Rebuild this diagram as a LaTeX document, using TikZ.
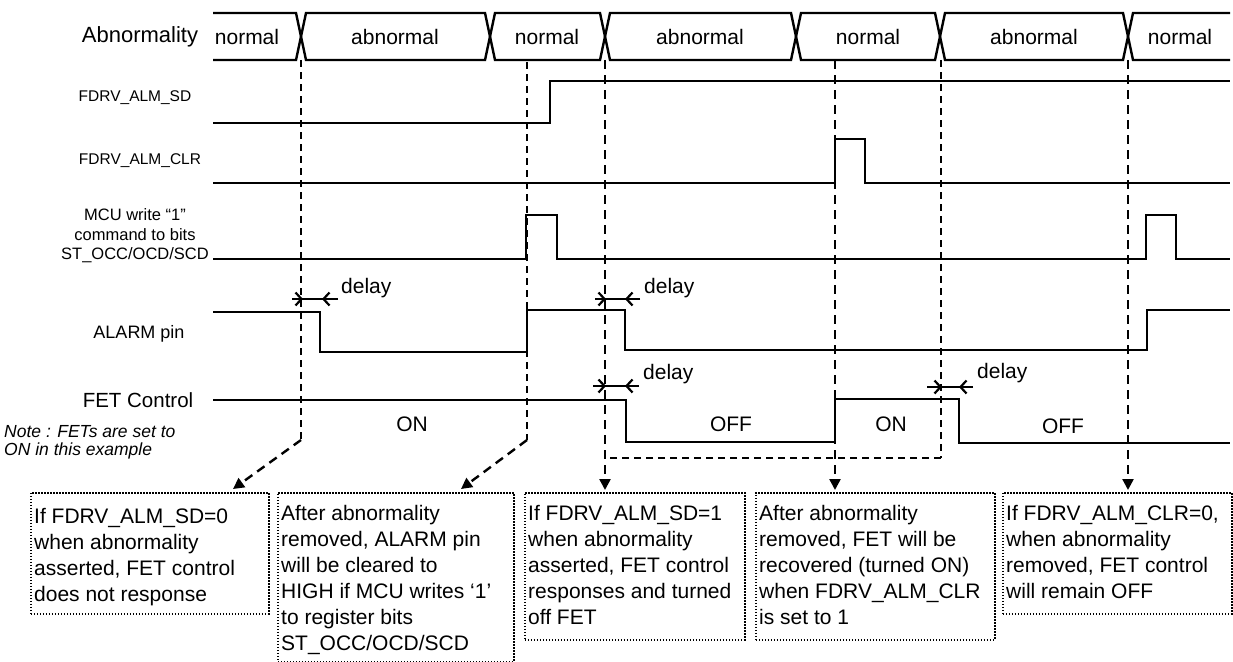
\documentclass[tikz,border=0pt]{standalone}
\usepackage{fontspec}
\setmainfont{Liberation Sans}
\usetikzlibrary{arrows.meta,calc}
\begin{document}
\begin{tikzpicture}[x=1pt,y=-1pt,
  sig/.style={line width=2.4pt, line join=miter},
  bus/.style={line width=2.4pt, line join=miter},
  thindash/.style={line width=1.5pt, dash pattern=on 7pt off 5pt},
  thickdash/.style={line width=2.4pt, dash pattern=on 9pt off 6pt},
  meddash/.style={line width=1.8pt, dash pattern=on 7pt off 5pt},
  lbl/.style={align=center, inner sep=0pt},
  bustxt/.style={font=\fontsize{21}{25}\selectfont, inner sep=0pt},
  dtxt/.style={font=\fontsize{21}{25}\selectfont, inner sep=0pt, anchor=west},
  boxtxt/.style={font=\fontsize{21}{26}\selectfont, align=left, inner sep=0pt, anchor=north west},
  notebox/.style={draw, line width=1.5pt, dash pattern=on 1.5pt off 1.5pt, inner sep=0pt, anchor=north west},
  ptr/.style={-{Triangle[length=11pt,width=11pt]}},
  barb/.style={line width=2.2pt, -{Straight Barb[length=6pt,width=13pt]}},
]
\fill[white] (0,0) rectangle (1233,661);
\useasboundingbox (0,0) rectangle (1233,661);

% ---------- left labels
\node[lbl, font=\fontsize{22}{24}\selectfont] (lAbn) at (140,37) {Abnormality};
\node[lbl, font=\fontsize{15.5}{18}\selectfont] (lSD) at (135,98) {FDRV\_ALM\_SD};
\node[lbl, font=\fontsize{15.5}{18}\selectfont] (lCLR) at (140,161) {FDRV\_ALM\_CLR};
\node[lbl, font=\fontsize{16.5}{19.5}\selectfont] (lMCU) at (135,236) {MCU write “1”\\command to bits\\ST\_OCC/OCD/SCD};
\node[lbl, font=\fontsize{18}{20}\selectfont] (lALM) at (139,334) {ALARM pin};
\node[lbl, font=\fontsize{20.5}{23}\selectfont] (lFET) at (138,400) {FET Control};
\node[font=\fontsize{17.5}{18}\selectfont\itshape, align=left, inner sep=0pt, anchor=west] (note) at (4,442) {Note : FETs are set to\\ON in this example};

% ---------- abnormality bus
\draw[bus] (213,13) -- (296,13) -- (301,36.5) -- (296,60) -- (213,60);
\foreach \a/\b in {301/490,490/605,605/796,796/940,940/1128}{
  \draw[bus] (\a,36.5) -- (\a+5,13) -- (\b-5,13) -- (\b,36.5) -- (\b-5,60) -- (\a+5,60) -- cycle;
}
\draw[bus] (1230,13) -- (1133,13) -- (1128,36.5) -- (1133,60) -- (1230,60);
\node[bustxt] (s1) at (247,37) {normal};
\node[bustxt] (s2) at (395,37) {abnormal};
\node[bustxt] (s3) at (547,37) {normal};
\node[bustxt] (s4) at (700,37) {abnormal};
\node[bustxt] (s5) at (868,37) {normal};
\node[bustxt] (s6) at (1034,37) {abnormal};
\node[bustxt] (s7) at (1180,37) {normal};

% ---------- signals
\draw[sig] (213,123) -- (550,123) -- (550,81) -- (1230,81);
\draw[sig] (213,183) -- (835,183) -- (835,139) -- (865,139) -- (865,183) -- (1230,183);
\draw[sig] (213,259) -- (526,259) -- (526,215) -- (557,215) -- (557,259) -- (1146,259) -- (1146,215) -- (1176,215) -- (1176,259) -- (1230,259);
\draw[sig] (213,312) -- (320,312) -- (320,352) -- (527,352) -- (527,310) -- (625,310) -- (625,350) -- (1147,350) -- (1147,310) -- (1230,310);
\draw[sig] (213,400) -- (626,400) -- (626,442) -- (835,442) -- (835,399) -- (959,399) -- (959,443) -- (1230,443);
\node[bustxt] (on1) at (412,424) {ON};
\node[bustxt] (off1) at (731,424) {OFF};
\node[bustxt] (on2) at (891,424) {ON};
\node[bustxt] (off2) at (1063,426) {OFF};

% ---------- delay markers
\draw[sig] (292,299) -- (338,299);
\draw[barb] (292,299) -- (303,299);
\draw[barb] (338,299) -- (322,299);
\node[dtxt] (dl1) at (341,288) {delay};
\draw[sig] (595,299) -- (640,299);
\draw[barb] (595,299) -- (606,299);
\draw[barb] (640,299) -- (625,299);
\node[dtxt] (dl2) at (644,288) {delay};
\draw[sig] (593,386) -- (639,386);
\draw[barb] (593,386) -- (606,386);
\draw[barb] (639,386) -- (625,386);
\node[dtxt] (dl3) at (643,374) {delay};
\draw[sig] (927,387) -- (973,387);
\draw[barb] (927,387) -- (942,387);
\draw[barb] (973,387) -- (959,387);
\node[dtxt] (dl4) at (977,373) {delay};

% ---------- explanation boxes
\node[notebox, minimum width=238pt, minimum height=121pt] (b1) at (30,492) {};
\node[notebox, minimum width=236pt, minimum height=169pt] (b2) at (277,492) {};
\node[notebox, minimum width=220pt, minimum height=147pt] (b3) at (524,492) {};
\node[notebox, minimum width=239pt, minimum height=147pt] (b4) at (755,492) {};
\node[notebox, minimum width=229pt, minimum height=121pt] (b5) at (1002,492) {};
\node[boxtxt] (t1) at ([xshift=4pt,yshift=-16pt]b1.north west) {If FDRV\_ALM\_SD=0\\when abnormality\\asserted, FET control\\does not response};
\node[boxtxt] (t2) at ([xshift=4pt,yshift=-13pt]b2.north west) {After abnormality\\removed, ALARM pin\\will be cleared to\\HIGH if MCU writes ‘1’\\to register bits\\ST\_OCC/OCD/SCD};
\node[boxtxt] (t3) at ([xshift=4pt,yshift=-13pt]b3.north west) {If FDRV\_ALM\_SD=1\\when abnormality\\asserted, FET control\\responses and turned\\off FET};
\node[boxtxt] (t4) at ([xshift=4pt,yshift=-13pt]b4.north west) {After abnormality\\removed, FET will be\\recovered (turned ON)\\when FDRV\_ALM\_CLR\\is set to 1};
\node[boxtxt] (t5) at ([xshift=4pt,yshift=-13pt]b5.north west) {If FDRV\_ALM\_CLR=0,\\when abnormality\\removed, FET control\\will remain OFF};

% ---------- dashed guide lines and pointers
\coordinate (v1t) at (301,60);  \coordinate (v1b) at (301,440);
\coordinate (v2t) at (527,62);  \coordinate (v2b) at (527,440);
\coordinate (v3t) at (605,60);
\coordinate (v4t) at (835,60);
\coordinate (v5t) at (941,60);  \coordinate (v5b) at (941,458);
\coordinate (v5l) at (605,458);
\coordinate (v6t) at (1128,60);
\coordinate (p1) at (233,489);
\coordinate (p2) at (461,489);

\draw[thindash] (v1t) -- (v1b);
\draw[thickdash, ptr] (v1b) -- (p1);
\draw[thindash] (v2t) -- (v2b);
\draw[thickdash, ptr] (v2b) -- (p2);
\draw[thickdash, ptr] (v3t) -- ([yshift=2pt]v3t |- b3.north);
\draw[thickdash, ptr] (v4t) -- ([yshift=2pt]v4t |- b4.north);
\draw[thindash] (v5t) -- (v5b);
\draw[meddash] (v5b) -- (v5l);
\draw[thickdash, ptr] (v6t) -- ([yshift=2pt]v6t |- b5.north);
\end{tikzpicture}
\end{document}
